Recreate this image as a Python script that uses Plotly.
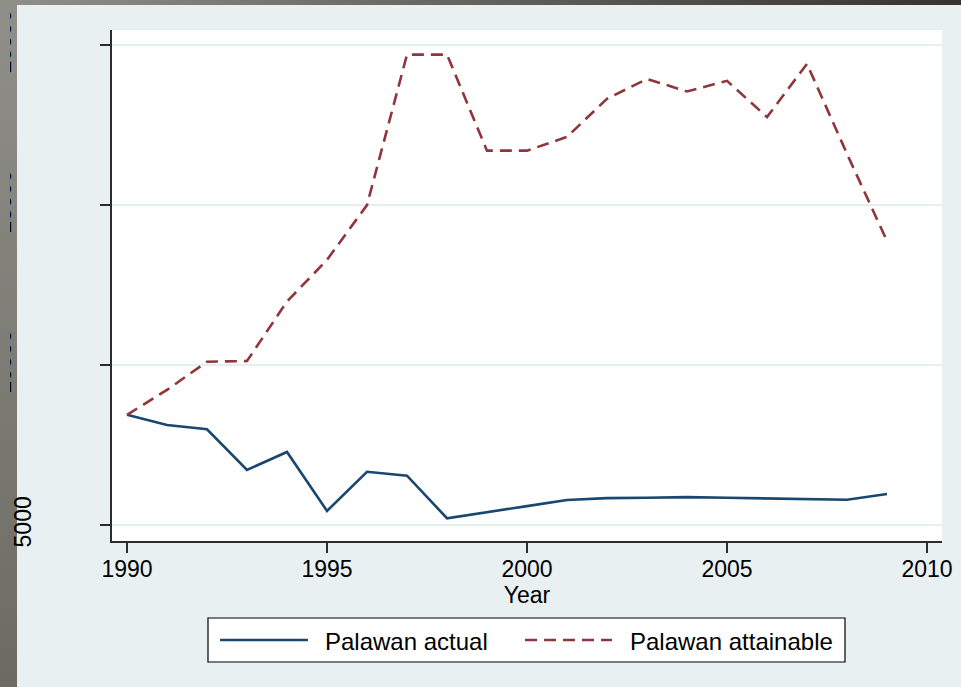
import base64
import plotly.graph_objects as go

# ---- data -------------------------------------------------------------
years = list(range(1990, 2010))
actual = [8450, 8130, 8000, 6730, 7290, 5450, 6670, 6550, 5220, 5400,
          5600, 5790, 5850, 5860, 5880, 5860, 5840, 5830, 5800, 5980]
attainable = [8450, 9230, 10110, 10130, 11990, 13290, 15000, 19700, 19700, 16700,
              16700, 17130, 18320, 18940, 18550, 18880, 17750, 19410, 16600, 13880]
series_names = ["Palawan actual", "Palawan attainable"]
x_ticks = [1990, 1995, 2000, 2005, 2010]
y_ticks = [5000, 10000, 15000, 20000]
x_title = "Year"

# ---- geometry / style ---------------------------------------------------
W, H = 961, 687
ML, MR, MT, MB = 112, 19, 30, 146
PW, PH = W - ML - MR, H - MT - MB
FONT = "Liberation Sans, Arial, Helvetica, sans-serif"
BLUE = "#1a476f"
RED = "#90353b"
BG = "#e9f0f2"
GRID = "#e6eef0"
AXIS = "#2b2b2b"
DASH = "12px,7px"


def px_x(px):
    return (px - ML) / PW


def px_y(py):
    return 1 - (py - MT) / PH


def svg_uri(svg):
    return "data:image/svg+xml;base64," + base64.b64encode(svg.encode()).decode()


def side_strip(width):
    return svg_uri(
        f'<svg xmlns="http://www.w3.org/2000/svg" width="{width}" height="{H}" '
        f'preserveAspectRatio="none">'
        '<defs><linearGradient id="g" x1="0" y1="0" x2="0" y2="1">'
        '<stop offset="0" stop-color="#908f89"/><stop offset="1" stop-color="#6b6a63"/>'
        f'</linearGradient></defs><rect width="{width}" height="{H}" fill="url(#g)"/></svg>'
    )


top_strip = svg_uri(
    f'<svg xmlns="http://www.w3.org/2000/svg" width="{W}" height="5" preserveAspectRatio="none">'
    '<defs><linearGradient id="g" x1="0" y1="0" x2="1" y2="0">'
    '<stop offset="0" stop-color="#908f89"/><stop offset="1" stop-color="#36342c"/>'
    f'</linearGradient></defs><rect width="{W}" height="5" fill="url(#g)"/></svg>'
)

fig = go.Figure()
fig.add_trace(go.Scatter(
    x=years, y=actual, mode="lines", name=series_names[0],
    line=dict(color=BLUE, width=2.6), showlegend=False,
))
fig.add_trace(go.Scatter(
    x=years, y=attainable, mode="lines", name=series_names[1], yaxis="y2",
    line=dict(color=RED, width=2.6, dash=DASH), showlegend=False,
))

y_range = [4510, 20468]

fig.update_layout(
    width=W, height=H,
    margin=dict(l=ML, r=MR, t=MT, b=MB, pad=0),
    paper_bgcolor=BG, plot_bgcolor="white",
    font=dict(family=FONT, size=23, color="black"),
    xaxis=dict(
        range=[1989.625, 2010.375], tickvals=x_ticks, automargin=False,
        ticks="outside", ticklen=10, tickwidth=1.5, tickcolor=AXIS,
        showline=True, linecolor=AXIS, linewidth=1.5,
        showgrid=False, zeroline=False,
        tickfont=dict(size=23), ticklabelstandoff=-3,
        title=dict(text=x_title, font=dict(size=23), standoff=0),
    ),
    yaxis=dict(
        range=y_range, tickvals=y_ticks, automargin=False,
        ticktext=[str(y_ticks[0])] + [""] * (len(y_ticks) - 1),
        tickangle=-90, ticks="outside", ticklen=10, tickwidth=1.5, tickcolor=AXIS,
        showline=True, linecolor=AXIS, linewidth=1.5,
        showgrid=True, gridcolor=GRID, gridwidth=2, zeroline=False,
        tickfont=dict(size=23), ticklabelstandoff=60,
    ),
    yaxis2=dict(
        overlaying="y", matches="y", side="left", range=y_range, automargin=False,
        tickvals=y_ticks[1:], ticktext=[str(v) for v in y_ticks[1:]],
        tickangle=-90, ticks="", showline=False, showgrid=False, zeroline=False,
        tickfont=dict(size=23), ticklabelstandoff=95,
    ),
    images=[
        # window frame: grey strip down the left edge (under the axis labels)
        dict(source=side_strip(17), xref="paper", yref="paper", x=px_x(0), y=px_y(0),
             sizex=17 / PW, sizey=H / PH, xanchor="left", yanchor="top",
             sizing="stretch", layer="below"),
        # outer part of the frame, drawn over whatever text runs under it
        dict(source=side_strip(10), xref="paper", yref="paper", x=px_x(0), y=px_y(0),
             sizex=10 / PW, sizey=H / PH, xanchor="left", yanchor="top",
             sizing="stretch", layer="above"),
        dict(source=top_strip, xref="paper", yref="paper", x=px_x(0), y=px_y(0),
             sizex=W / PW, sizey=5 / PH, xanchor="left", yanchor="top",
             sizing="stretch", layer="above"),
    ],
)

# ---- legend box below the plot ------------------------------------------
box = dict(x0=208, x1=845, y0=618, y1=662)
ly = (box["y0"] + box["y1"]) / 2
shapes = [
    dict(type="rect", xref="paper", yref="paper",
         x0=px_x(box["x0"]), x1=px_x(box["x1"]), y0=px_y(box["y1"]), y1=px_y(box["y0"]),
         line=dict(color="black", width=1.2), fillcolor="white", layer="above"),
    dict(type="line", xref="paper", yref="paper",
         x0=px_x(220), x1=px_x(308), y0=px_y(ly), y1=px_y(ly),
         line=dict(color=BLUE, width=2.6)),
    dict(type="line", xref="paper", yref="paper",
         x0=px_x(525), x1=px_x(612), y0=px_y(ly), y1=px_y(ly),
         line=dict(color=RED, width=2.6, dash=DASH)),
]
fig.update_layout(shapes=shapes)
for name, tx in zip(series_names, [323, 628]):
    fig.add_annotation(
        text=name, xref="paper", yref="paper", x=px_x(tx), y=px_y(ly + 1),
        xanchor="left", yanchor="middle", showarrow=False,
        font=dict(size=24, color="black"),
    )

fig.write_html("out.html")
